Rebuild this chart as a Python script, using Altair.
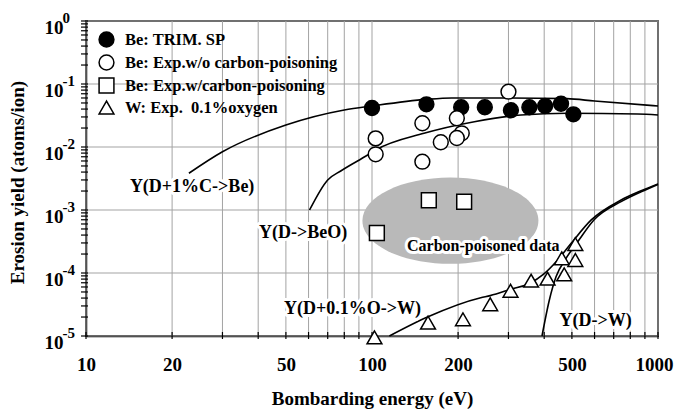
import altair as alt
import pandas as pd

# ---------------- data ----------------
LBL = ["Be: TRIM. SP", "Be: Exp.w/o carbon-poisoning",
       "Be: Exp.w/carbon-poisoning", "W: Exp.\u00a0 0.1%oxygen"]

trim_x = [100, 155, 205, 248, 306, 355, 403, 458, 506]
trim_y = [0.0416, 0.0476, 0.0427, 0.0427, 0.0383, 0.0427, 0.0448, 0.0486, 0.0330]

woc_x = [103, 103, 150, 150, 174, 198, 206, 198, 300]
woc_y = [0.0137, 0.00766, 0.0238, 0.00585, 0.0119, 0.0286, 0.0165, 0.0139, 0.0755]

wc_x = [104, 158, 210]
wc_y = [0.000432, 0.00143, 0.00135]

w_x = [102, 157, 208, 259, 305, 360, 411, 470, 461, 514, 514]
w_y = [0.95e-5, 1.63e-5, 1.84e-5, 3.19e-5, 5.23e-5, 7.55e-5, 8.12e-5, 9.5e-5,
       1.71e-4, 1.61e-4, 2.88e-4]

# curves
c_be_x = [22.9, 30, 50, 80, 100, 155, 190, 300, 480, 600, 1000]
c_be_y = [0.00383, 0.0084, 0.0223, 0.0386, 0.0448, 0.057, 0.060, 0.060, 0.0585, 0.0537, 0.0448]

c_beo_x = [60.5, 70, 78, 96.6, 103, 152, 228, 332, 483, 849, 1000]
c_beo_y = [0.001, 0.003, 0.0042, 0.00746, 0.00895, 0.0165, 0.0252, 0.0322, 0.0343, 0.0334, 0.0322]

c_ow_x = [115, 157, 240, 259, 305, 360, 395, 446, 497, 583, 743, 873, 1000]
c_ow_y = [1.0e-5, 2.02e-5, 4.05e-5, 4.37e-5, 5.5e-5, 7.0e-5, 9.3e-5, 1.61e-4,
          2.96e-4, 6.9e-4, 1.44e-3, 2.02e-3, 2.6e-3]

c_w_x = [393, 417, 440, 477, 524, 598, 743, 873, 1000]
c_w_y = [1.0e-5, 3.73e-5, 8.7e-5, 1.71e-4, 3.14e-4, 7.0e-4, 1.36e-3, 1.95e-3, 2.55e-3]

# shaded "carbon-poisoned" region (centre)
ell_x = [188]
ell_y = [6.76e-4]

# annotations
ann_text = ["Y(D+1%C->Be)", "Y(D->BeO)", "Y(D+0.1%O->W)", "Y(D->W)"]
ann_x = [23.5, 57.4, 85.5, 605]
ann_y = [0.00232, 4.32e-4, 2.68e-5, 1.73e-5]
cp_text = ["Carbon-poisoned data"]
cp_x = [245]
cp_y = [2.73e-4]

x_label_vals = [10, 20, 50, 100, 200, 500, 1000]
x_tick_vals = [m * 10 ** e for e in (1, 2) for m in range(1, 10)] + [1000]
y_tick_vals = [m * 10.0 ** e for e in range(-5, 0) for m in range(1, 10)] + [1.0]
y_decades = [1e-5, 1e-4, 1e-3, 1e-2, 1e-1, 1.0]

# ---------------- tables ----------------
pts_df = pd.concat([
    pd.DataFrame({"x": trim_x, "y": trim_y, "series": LBL[0]}),
    pd.DataFrame({"x": woc_x, "y": woc_y, "series": LBL[1]}),
    pd.DataFrame({"x": wc_x, "y": wc_y, "series": LBL[2]}),
    pd.DataFrame({"x": w_x, "y": w_y, "series": LBL[3]}),
], ignore_index=True)

curves = []
for name, xs, ys in [("be", c_be_x, c_be_y), ("beo", c_beo_x, c_beo_y),
                     ("ow", c_ow_x, c_ow_y), ("w", c_w_x, c_w_y)]:
    curves.append(pd.DataFrame({"x": xs, "y": ys, "curve": name, "o": list(range(len(xs)))}))
cur_df = pd.concat(curves, ignore_index=True)

ell_df = pd.DataFrame({"x": ell_x, "y": ell_y})
ann_df = pd.DataFrame({"x": ann_x, "y": ann_y, "t": ann_text})
cp_df = pd.DataFrame({"x": cp_x, "y": cp_y, "t": cp_text})
xg_df = pd.DataFrame({"x": x_tick_vals})
yg_df = pd.DataFrame({"y": y_decades})
yt_df = pd.DataFrame({"y": y_tick_vals})

# ---------------- styling ----------------
FONT = "Liberation Serif"
W, H = 572, 315
xscale = alt.Scale(type="log", domain=[10, 1000], nice=False)
yscale = alt.Scale(type="log", domain=[1e-5, 1], nice=False)
DEC = "abs(log(datum.value)/LN10 - round(log(datum.value)/LN10)) < 0.001"
GRID = "#a3a3a3"

xaxis = alt.Axis(
    values=x_tick_vals,
    labelExpr="indexof(%s, datum.value) >= 0 ? '' + datum.value : ''" % str(x_label_vals),
    title="Bombarding energy (eV)", grid=False, ticks=False,
    domainColor="black", domainWidth=1.5,
    labelFont=FONT, labelFontSize=19, labelFontWeight="bold", labelColor="black",
    labelPadding=19, labelFlush=False, labelOverlap=False,
    labelOffset={"condition": {"test": "datum.value >= 1000", "value": -4}, "value": 0},
    titleFont=FONT, titleFontSize=19, titleFontWeight="bold", titleColor="black",
    titleY=62, titleBaseline="middle",
)

yaxis_main = alt.Axis(
    values=y_tick_vals, orient="left",
    labelExpr=DEC + " ? '10' : ''",
    grid=False, ticks=False,
    domainColor="black", domainWidth=1.5,
    labelFont=FONT, labelFontSize=19, labelFontWeight="bold", labelColor="black",
    labelPadding=23, labelAlign="right", labelBaseline="middle", labelOffset=6,
    labelOverlap=False, labelFlush=False,
    title="Erosion yield (atoms/ion)", titleFont=FONT, titleFontSize=19,
    titleFontWeight="bold", titleColor="black", titleX=-69, titleY=161,
    titleBaseline="middle", titleAngle=270,
)

yaxis_exp = alt.Axis(
    values=y_decades, orient="left",
    labelExpr="'' + round(log(datum.value)/LN10)",
    ticks=False, grid=False, domain=False,
    labelFont=FONT, labelFontSize=15, labelFontWeight="bold", labelColor="black",
    labelPadding=24, labelAlign="left", labelBaseline="middle", labelOffset=-4,
    labelOverlap=False, labelFlush=False, title=None,
)

legend = alt.Legend(
    title=None, orient="none", legendX=12, legendY=10, padding=0,
    labelFont=FONT, labelFontSize=16.5, labelFontWeight="bold", labelColor="black",
    labelOffset=10, rowPadding=2, labelLimit=400,
    symbolStrokeWidth=1.5, symbolSize=220,
)

ELLIPSE = "M-1,0A1,0.49,0,1,0,1,0A1,0.49,0,1,0,-1,0Z"

X = alt.X("x:Q", scale=xscale)

# grid lines and ticks drawn from the tick values
xgrid = alt.Chart(xg_df).mark_rule(color=GRID, strokeWidth=1).encode(
    x=alt.X("x:Q", scale=xscale, axis=xaxis),
)
ygrid = alt.Chart(yg_df).mark_rule(color=GRID, strokeWidth=1).encode(
    y=alt.Y("y:Q", scale=yscale, axis=yaxis_exp),
)
xticks = alt.Chart(xg_df).mark_rule(color="black", strokeWidth=1.2).encode(
    x=X, y=alt.value(H - 4), y2=alt.value(H + 3),
)
yticks = alt.Chart(yt_df).mark_rule(color="black", strokeWidth=1.2).encode(
    y=alt.Y("y:Q", scale=yscale, axis=None), x=alt.value(-5), x2=alt.value(2),
)

ell = alt.Chart(ell_df).mark_point(
    shape=ELLIPSE, filled=True, fill="#b9b9b9", size=30976, opacity=1, strokeWidth=0
).encode(
    x=X,
    y=alt.Y("y:Q", scale=yscale, axis=None),
)

lines = alt.Chart(cur_df).mark_line(
    color="black", strokeWidth=1.6, interpolate="monotone"
).encode(
    x=X,
    y=alt.Y("y:Q", scale=yscale, axis=None),
    detail="curve:N",
    order="o:Q",
)

def text_layer(df, size, halo):
    kw = dict(font=FONT, fontWeight="bold", fontSize=size, align="center", baseline="middle")
    if halo:
        m = alt.Chart(df).mark_text(stroke="white", strokeWidth=6, strokeJoin="round",
                                    fill="white", **kw)
    else:
        m = alt.Chart(df).mark_text(color="black", **kw)
    return m.encode(
        x=X,
        y=alt.Y("y:Q", scale=yscale, axis=None),
        text="t:N",
    )

pts = alt.Chart(pts_df).mark_point(
    filled=True, stroke="black", strokeWidth=1.5, opacity=1, size=220
).encode(
    x=X,
    y=alt.Y("y:Q", scale=yscale, axis=yaxis_main),
    color=alt.Color("series:N", sort=LBL,
                    scale=alt.Scale(domain=LBL, range=["black", "white", "white", "white"]),
                    legend=legend),
    shape=alt.Shape("series:N", sort=LBL,
                    scale=alt.Scale(domain=LBL, range=["circle", "circle", "square", "triangle-up"]),
                    legend=legend),
)

chart = alt.layer(
    xgrid, ygrid, xticks, yticks, ell, lines,
    text_layer(ann_df, 18, True), text_layer(cp_df, 16, True),
    text_layer(ann_df, 18, False), text_layer(cp_df, 16, False),
    pts,
).resolve_axis(y="independent").properties(
    width=W, height=H,
    autosize=alt.AutoSizeParams(type="none"),
    padding={"left": 78, "top": 13, "right": 16, "bottom": 74},
    background="white",
).configure_view(stroke="black", strokeWidth=1.5)

chart.save("out.html", embed_options={"renderer": "svg", "actions": False})
